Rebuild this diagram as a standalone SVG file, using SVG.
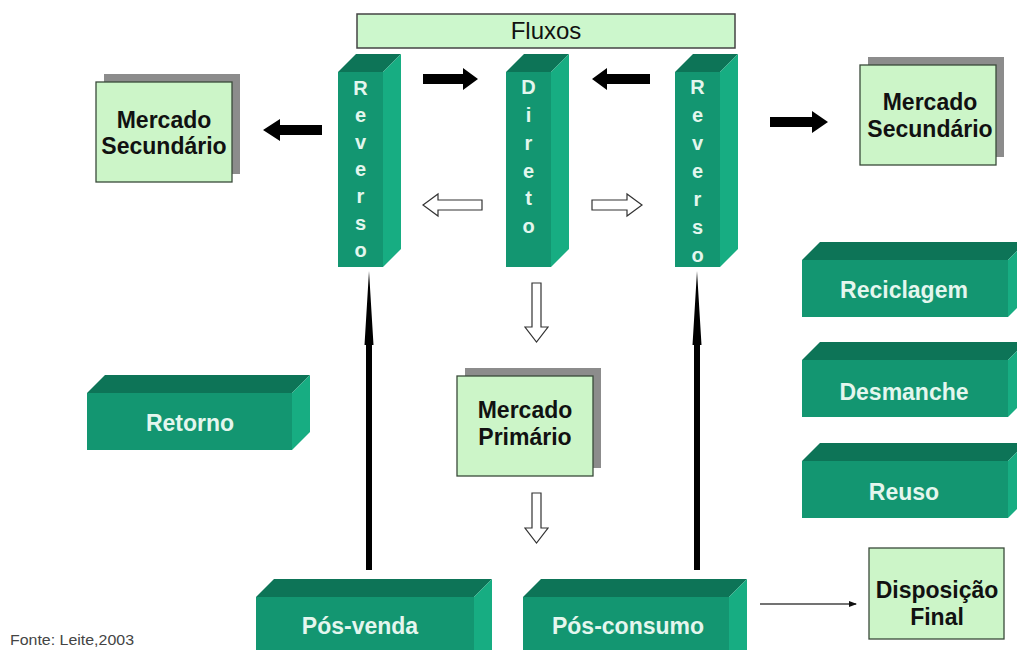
<svg xmlns="http://www.w3.org/2000/svg" width="1017" height="650" viewBox="0 0 1017 650">
<defs>
<style>
.front{fill:#139671}
.top{fill:#0d7457}
.side{fill:#17ad82}
.gl{font-family:"Liberation Sans",Arial,sans-serif;font-weight:bold;font-size:23px;fill:#e4f6ee;text-anchor:middle}
.col{font-family:"Liberation Sans",Arial,sans-serif;font-weight:bold;font-size:20px;fill:#e4f6ee;text-anchor:middle}
.mk{fill:#ccf5c8;stroke:#3a4a3a;stroke-width:1.3}
.sh{fill:#8c8c8c}
.mt{font-family:"Liberation Sans",Arial,sans-serif;font-weight:bold;font-size:23px;fill:#111;text-anchor:middle}
.blk{fill:#000}
.hol{fill:#fff;stroke:#333;stroke-width:1.2}
</style>
<marker id="ah" markerWidth="8" markerHeight="8" refX="7" refY="4" orient="auto" markerUnits="userSpaceOnUse">
<path d="M0,1 L8,4 L0,7 z" fill="#111"/>
</marker>
</defs>
<rect width="1017" height="650" fill="#fff"/>

<g id="fluxos">
<rect x="357" y="14" width="378" height="34" fill="#ccf7cc" stroke="#444" stroke-width="1.5"/>
<text x="546" y="39" font-family="Liberation Sans,Arial,sans-serif" font-size="24" fill="#111" text-anchor="middle">Fluxos</text>
</g>

<g id="reverso-esq">
<polygon class="top" points="338,72 356,54 401,54 383,72"/>
<polygon class="side" points="383,72 401,54 401,249 383,267"/>
<rect class="front" x="338" y="72" width="45" height="195"/>
<text class="col" x="360.5" y="95">R</text>
<text class="col" x="360.5" y="122">e</text>
<text class="col" x="360.5" y="149">v</text>
<text class="col" x="360.5" y="176">e</text>
<text class="col" x="360.5" y="203">r</text>
<text class="col" x="360.5" y="230">s</text>
<text class="col" x="360.5" y="257">o</text>
</g>

<g id="direto">
<polygon class="top" points="506,72 524,54 569,54 551,72"/>
<polygon class="side" points="551,72 569,54 569,249 551,267"/>
<rect class="front" x="506" y="72" width="45" height="195"/>
<text class="col" x="528.5" y="94">D</text>
<text class="col" x="528.5" y="122">i</text>
<text class="col" x="528.5" y="149.5">r</text>
<text class="col" x="528.5" y="177.5">e</text>
<text class="col" x="528.5" y="205">t</text>
<text class="col" x="528.5" y="233">o</text>
</g>

<g id="reverso-dir">
<polygon class="top" points="675,72 693,54 738,54 720,72"/>
<polygon class="side" points="720,72 738,54 738,249 720,267"/>
<rect class="front" x="675" y="72" width="45" height="195"/>
<text class="col" x="697.5" y="94">R</text>
<text class="col" x="697.5" y="122">e</text>
<text class="col" x="697.5" y="150">v</text>
<text class="col" x="697.5" y="178">e</text>
<text class="col" x="697.5" y="206">r</text>
<text class="col" x="697.5" y="234">s</text>
<text class="col" x="697.5" y="262">o</text>
</g>

<g id="mercado-secundario-esq">
<rect class="sh" x="104" y="74" width="136" height="100"/>
<rect class="mk" x="96" y="82" width="136" height="100"/>
<text class="mt" x="164" y="128">Mercado</text>
<text class="mt" x="164" y="154">Secundário</text>
</g>

<g id="mercado-secundario-dir">
<rect class="sh" x="868" y="57" width="136" height="100"/>
<rect class="mk" x="860" y="65" width="136" height="100"/>
<text class="mt" x="930" y="110">Mercado</text>
<text class="mt" x="930" y="137">Secundário</text>
</g>

<g id="mercado-primario">
<rect class="sh" x="465" y="368" width="136" height="100"/>
<rect class="mk" x="457" y="376" width="136" height="100"/>
<text class="mt" x="525" y="418" font-size="22">Mercado</text>
<text class="mt" x="525" y="445" font-size="22">Primário</text>
</g>

<g id="reciclagem">
<polygon class="top" points="802,260 820,242 1026,242 1008,260"/>
<polygon class="side" points="1008,260 1026,242 1026,299 1008,317"/>
<rect class="front" x="802" y="260" width="206" height="57"/>
<text class="gl" x="904" y="298">Reciclagem</text>
</g>

<g id="desmanche">
<polygon class="top" points="802,360 820,342 1026,342 1008,360"/>
<polygon class="side" points="1008,360 1026,342 1026,399 1008,417"/>
<rect class="front" x="802" y="360" width="206" height="57"/>
<text class="gl" x="904" y="400">Desmanche</text>
</g>

<g id="reuso">
<polygon class="top" points="802,461 820,443 1026,443 1008,461"/>
<polygon class="side" points="1008,461 1026,443 1026,500 1008,518"/>
<rect class="front" x="802" y="461" width="206" height="57"/>
<text class="gl" x="904" y="500">Reuso</text>
</g>

<g id="retorno">
<polygon class="top" points="87,393 105,375 310,375 292,393"/>
<polygon class="side" points="292,393 310,375 310,432 292,450"/>
<rect class="front" x="87" y="393" width="205" height="57"/>
<text class="gl" x="190" y="431">Retorno</text>
</g>

<g id="pos-venda">
<polygon class="top" points="256,597 274,579 492,579 474,597"/>
<polygon class="side" points="474,597 492,579 492,650 474,668"/>
<rect class="front" x="256" y="597" width="218" height="71"/>
<text class="gl" x="360" y="634">Pós-venda</text>
</g>

<g id="pos-consumo">
<polygon class="top" points="523,597 541,579 747,579 729,597"/>
<polygon class="side" points="729,597 747,579 747,650 729,668"/>
<rect class="front" x="523" y="597" width="206" height="71"/>
<text class="gl" x="628" y="634">Pós-consumo</text>
</g>

<g id="disposicao-final">
<rect class="mk" x="869" y="548" width="135" height="91"/>
<text class="mt" x="937" y="598">Disposição</text>
<text class="mt" x="937" y="625">Final</text>
</g>

<g id="connectors">
<polygon class="blk" points="423,74 463,74 463,68 478,79 463,90 463,84 423,84"/>
<polygon class="blk" points="650,74 607,74 607,68 592,79 607,90 607,84 650,84"/>
<polygon class="blk" points="322,125 280,125 280,119 263,130 280,141 280,135 322,135"/>
<polygon class="blk" points="770,117 812,117 812,111 828,122 812,133 812,127 770,127"/>
<polygon class="hol" points="482,200 438,200 438,194 423,205 438,216 438,210 482,210"/>
<polygon class="hol" points="592,200 627,200 627,194 642,205 627,216 627,210 592,210"/>
<polygon class="hol" points="532,283 541,283 541,327 548,327 536.5,342 525,327 532,327"/>
<polygon class="hol" points="532,493 541,493 541,528 548,528 536.5,543 525,528 532,528"/>
<polygon class="blk" points="369,271 373.5,345 372,345 372,570 366,570 366,345 364.5,345"/>
<polygon class="blk" points="697,271 701.5,345 700,345 700,570 694,570 694,345 692.5,345"/>
<line x1="760" y1="604" x2="856" y2="604" stroke="#444" stroke-width="1.3" marker-end="url(#ah)"/>
</g>

<text x="10" y="645" font-family="Liberation Sans,Arial,sans-serif" font-size="14" fill="#444" textLength="124" lengthAdjust="spacingAndGlyphs">Fonte: Leite,2003</text>
</svg>
